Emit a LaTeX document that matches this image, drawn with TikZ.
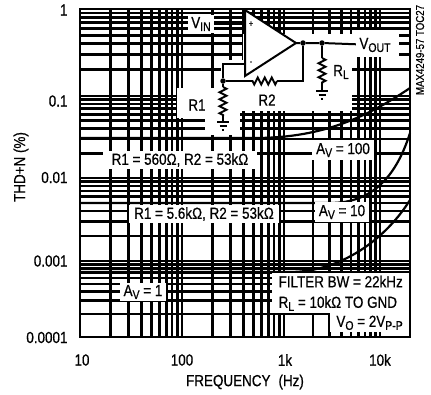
\documentclass[tikz,border=0pt]{standalone}
\usepackage{fontspec}
\setmainfont{Liberation Sans}[FakeStretch=0.84, FakeBold=0.6]
\usetikzlibrary{decorations.pathmorphing}

\tikzset{
  gridline/.style={line width=2.7pt},
  curve/.style={line width=2.2pt},
  wire/.style={line width=2pt},
  resistor/.style={wire, decorate, decoration={zigzag, segment length=7pt, amplitude=3.5pt}},
  lbl/.style={fill=white, inner xsep=4pt, inner ysep=2.5pt},
  dot/.style={circle, fill, inner sep=0pt, minimum size=5.5pt},
  small/.style={font=\fontsize{11.5}{12}\selectfont},
}
\newcommand{\dn}[1]{\raisebox{-0.35ex}{\fontsize{12.5}{12}\selectfont #1}}
\newcommand{\gnd}[1]{%
  \draw[wire] ([xshift=-6pt]#1) -- ([xshift=6pt]#1)
    ([xshift=-3.5pt,yshift=-4pt]#1) -- ([xshift=3.5pt,yshift=-4pt]#1)
    ([xshift=-1.2pt,yshift=-8pt]#1) -- ([xshift=1.2pt,yshift=-8pt]#1);}

\begin{document}
\begin{tikzpicture}[x=1pt, y=-1pt, font=\fontsize{16}{19}\selectfont]
  \useasboundingbox (0,0) rectangle (431,394);
  % log grid
  \foreach \xa/\xd in {80/102, 182/102, 284/96}
    \foreach \m in {1,...,9}
      \draw[gridline] ({\xa+\xd*log10(\m)},9) -- ({\xa+\xd*log10(\m)},337);
  \draw[gridline] (380,9) -- (380,337);
  \foreach \ya/\yd in {9/87, 96/82, 178/83, 261/76}
    \foreach \m in {1,...,9}
      \draw[gridline] (80,{\ya+\yd*(1-log10(\m))}) -- (410,{\ya+\yd*(1-log10(\m))});
  \draw[gridline] (80,9) rectangle (410,337);

  % THD+N curves
  \draw[curve] (80,138) -- (255,138) .. controls (325,138) and (370,115) .. (410,88);
  \draw[curve] (80,203) -- (330,203) .. controls (370,203) and (395,180) .. (410,133);
  \draw[curve] (80,272) -- (290,272) .. controls (340,272) and (385,240) .. (410,200);

  % background of the circuit
  \fill[white] (243,34) rectangle (352,111);
  \fill[white] (221,60) rectangle (243,111);
  \fill[white] (177,88) rectangle (221,118);
  \fill[white] (205,111) rectangle (240,135);
  \fill[white] (352,30) rectangle (399,57);

  % op amp
  \coordinate (pin) at (245,24);
  \coordinate (nin) at (245,64);
  \coordinate (out) at (296,43);
  \draw[wire, fill=white] (245,10) -- (245,76) -- (out) -- cycle;
  \node[font=\fontsize{9}{9}\selectfont, inner sep=0pt] (plus) at (251,24) {+};
  \node[font=\fontsize{9}{9}\selectfont, inner sep=0pt] (minus) at (251,63) {-};

  \node[lbl, inner xsep=3pt] (vin) at (201,24) {V\dn{IN}};
  \node (vout) at (375,45) {V\dn{OUT}};
  \node[dot] (j1) at (303,43) {};
  \node[dot] (j2) at (322,43) {};
  \node[dot] (j3) at (223,81) {};
  \coordinate (r2a) at (277,81);
  \coordinate (r2b) at (252,81);
  \coordinate (r1a) at (223,87);
  \coordinate (r1b) at (223,116);
  \coordinate (g1) at (223,122);
  \coordinate (rla) at (322,58);
  \coordinate (rlb) at (322,84);
  \coordinate (g2) at (322,91);

  \draw[wire] (vin) -- (pin);
  \draw[wire] (out) -- (j1) -- (j2) -- (vout);
  \draw[wire] (j1) |- (r2a);
  \draw[resistor] (r2a) -- (r2b);
  \draw[wire] (r2b) -- (j3);
  \draw[wire] (nin) -| (j3);
  \draw[wire] (j3) -- (r1a);
  \draw[resistor] (r1a) -- (r1b);
  \draw[wire] (r1b) -- (g1);
  \gnd{g1}
  \draw[wire] (j2) -- (rla);
  \draw[resistor] (rla) -- (rlb);
  \draw[wire] (rlb) -- (g2);
  \gnd{g2}

  \node (r1lbl) at (197,105) {R1};
  \node (r2lbl) at (267,100) {R2};
  \node (rllbl) at (341,72) {R\dn{L}};

  % curve labels
  \node[lbl, inner xsep=9pt] (cfg100) at (180,160) {R1 = 560Ω, R2 = 53kΩ};
  \node[lbl, inner xsep=5pt] (cfg10) at (204,214) {R1 = 5.6kΩ, R2 = 53kΩ};
  \node[lbl] (av100) at (343,150) {A\dn{V} = 100};
  \node[lbl] (av10) at (342,212) {A\dn{V} = 10};
  \node[lbl] (av1) at (143,292) {A\dn{V} = 1};
  \node[lbl, anchor=north west, align=left, minimum width=137pt,
        font=\fontsize{16}{20.5}\selectfont] (cond) at (272,273)
        {FILTER BW = 22kHz\\R\dn{L} = 10kΩ TO GND};
  \node[lbl, anchor=north east, inner xsep=6pt] (vo) at (409,313) {V\dn{O} = 2V\dn{P-P}};

  % axes
  \foreach \y/\t [count=\i] in {10/1, 101/0.1, 177.5/0.01, 261/0.001, 337.5/0.0001}
    \node[anchor=east] (ytick\i) at (71,\y) {\t};
  \foreach \x/\t [count=\i] in {82/10, 182/100, 285/1k, 380/10k}
    \node (xtick\i) at (\x,360) {\t};
  \node[rotate=90] (ylabel) at (21,167) {THD+N (\%)};
  \node (xlabel) at (245,382) {FREQUENCY\enspace(Hz)};
  \node[rotate=90, small] (code) at (420,50) {MAX4249-57 TOC27};
\end{tikzpicture}
\end{document}
